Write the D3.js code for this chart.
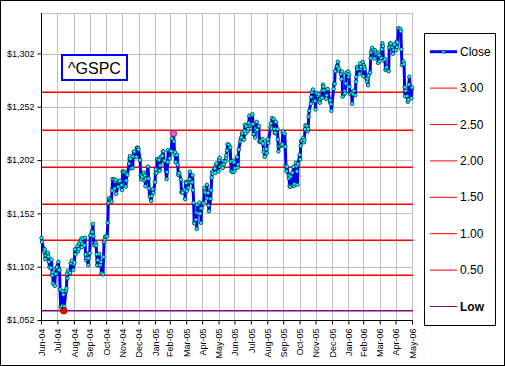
<!DOCTYPE html>
<html><head><meta charset="utf-8">
<script src="https://cdn.jsdelivr.net/npm/d3@7"></script>
<style>
html,body{margin:0;padding:0;background:#fff;}
svg{display:block;font-family:"Liberation Sans",Arial,sans-serif;}
</style></head>
<body><svg id="chart" width="505" height="366"></svg>
<script>
// ---------- data ----------
const title = "^GSPC";
const seriesName = "Close";
const closeSeries = [
["2004-07-01",1128.94],["2004-07-02",1125.38],["2004-07-06",1116.21],["2004-07-07",1118.33],["2004-07-08",1109.11],["2004-07-09",1112.81],["2004-07-12",1114.35],["2004-07-13",1115.14],["2004-07-14",1111.47],["2004-07-15",1106.69],["2004-07-16",1101.39],["2004-07-19",1100.90],["2004-07-20",1108.67],["2004-07-21",1093.88],["2004-07-22",1096.84],["2004-07-23",1086.20],["2004-07-26",1084.07],["2004-07-27",1094.83],["2004-07-28",1095.42],["2004-07-29",1100.43],["2004-07-30",1101.72],
["2004-08-02",1106.62],["2004-08-03",1099.69],["2004-08-04",1098.63],["2004-08-05",1080.70],["2004-08-06",1063.97],["2004-08-09",1065.22],["2004-08-10",1079.04],["2004-08-11",1075.79],["2004-08-12",1063.23],["2004-08-13",1064.80],["2004-08-16",1079.34],["2004-08-17",1081.71],["2004-08-18",1095.17],["2004-08-19",1091.23],["2004-08-20",1098.35],["2004-08-23",1095.68],["2004-08-24",1096.19],["2004-08-25",1104.96],["2004-08-26",1105.09],["2004-08-27",1107.77],["2004-08-30",1099.15],["2004-08-31",1104.24],
["2004-09-01",1105.91],["2004-09-02",1118.31],["2004-09-03",1113.63],["2004-09-07",1121.30],["2004-09-08",1116.27],["2004-09-09",1118.38],["2004-09-10",1123.92],["2004-09-13",1125.82],["2004-09-14",1128.33],["2004-09-15",1120.37],["2004-09-16",1123.50],["2004-09-17",1128.55],["2004-09-20",1122.20],["2004-09-21",1129.30],["2004-09-22",1113.56],["2004-09-23",1108.36],["2004-09-24",1110.11],["2004-09-27",1103.52],["2004-09-28",1110.06],["2004-09-29",1114.80],["2004-09-30",1114.58],
["2004-10-01",1131.50],["2004-10-04",1135.17],["2004-10-05",1134.48],["2004-10-06",1142.05],["2004-10-07",1130.65],["2004-10-08",1122.14],["2004-10-11",1124.39],["2004-10-12",1121.84],["2004-10-13",1113.65],["2004-10-14",1103.29],["2004-10-15",1108.20],["2004-10-18",1114.02],["2004-10-19",1103.23],["2004-10-20",1103.66],["2004-10-21",1106.49],["2004-10-22",1095.74],["2004-10-25",1094.80],["2004-10-26",1111.09],["2004-10-27",1125.40],["2004-10-28",1127.44],["2004-10-29",1130.20],
["2004-11-01",1130.51],["2004-11-02",1130.56],["2004-11-03",1143.20],["2004-11-04",1161.67],["2004-11-05",1166.17],["2004-11-08",1164.89],["2004-11-09",1164.08],["2004-11-10",1162.91],["2004-11-11",1173.48],["2004-11-12",1184.17],["2004-11-15",1183.81],["2004-11-16",1175.43],["2004-11-17",1181.94],["2004-11-18",1183.55],["2004-11-19",1170.34],["2004-11-22",1177.24],["2004-11-23",1176.94],["2004-11-24",1181.76],["2004-11-26",1182.65],["2004-11-29",1178.57],["2004-11-30",1173.82],
["2004-12-01",1191.37],["2004-12-02",1190.33],["2004-12-03",1191.17],["2004-12-06",1190.25],["2004-12-07",1177.07],["2004-12-08",1182.81],["2004-12-09",1189.24],["2004-12-10",1188.00],["2004-12-13",1198.68],["2004-12-14",1203.38],["2004-12-15",1205.72],["2004-12-16",1203.21],["2004-12-17",1194.20],["2004-12-20",1194.65],["2004-12-21",1205.45],["2004-12-22",1209.57],["2004-12-23",1210.13],["2004-12-27",1204.92],["2004-12-28",1213.54],["2004-12-29",1213.45],["2004-12-30",1213.55],["2004-12-31",1211.92],
["2005-01-03",1202.08],["2005-01-04",1188.05],["2005-01-05",1183.74],["2005-01-06",1187.89],["2005-01-07",1186.19],["2005-01-10",1190.25],["2005-01-11",1182.99],["2005-01-12",1187.70],["2005-01-13",1177.45],["2005-01-14",1184.52],["2005-01-18",1195.98],["2005-01-19",1184.63],["2005-01-20",1175.41],["2005-01-21",1167.87],["2005-01-24",1163.75],["2005-01-25",1168.41],["2005-01-26",1174.07],["2005-01-27",1174.55],["2005-01-28",1171.36],["2005-01-31",1181.27],
["2005-02-01",1189.41],["2005-02-02",1193.19],["2005-02-03",1189.89],["2005-02-04",1203.03],["2005-02-07",1201.72],["2005-02-08",1202.30],["2005-02-09",1191.99],["2005-02-10",1197.01],["2005-02-11",1205.30],["2005-02-14",1206.14],["2005-02-15",1210.12],["2005-02-16",1210.34],["2005-02-17",1200.75],["2005-02-18",1201.59],["2005-02-22",1184.16],["2005-02-23",1190.80],["2005-02-24",1200.20],["2005-02-25",1211.37],["2005-02-28",1203.60],
["2005-03-01",1210.41],["2005-03-02",1210.08],["2005-03-03",1210.47],["2005-03-04",1222.12],["2005-03-07",1225.31],["2005-03-08",1219.43],["2005-03-09",1207.01],["2005-03-10",1209.25],["2005-03-11",1200.08],["2005-03-14",1206.83],["2005-03-15",1197.75],["2005-03-16",1188.07],["2005-03-17",1190.21],["2005-03-18",1189.65],["2005-03-21",1183.78],["2005-03-22",1171.71],["2005-03-23",1172.53],["2005-03-24",1171.42],["2005-03-28",1174.28],["2005-03-29",1165.36],["2005-03-30",1181.41],["2005-03-31",1180.59],
["2005-04-01",1172.92],["2005-04-04",1176.12],["2005-04-05",1181.39],["2005-04-06",1184.07],["2005-04-07",1191.14],["2005-04-08",1181.20],["2005-04-11",1181.21],["2005-04-12",1187.76],["2005-04-13",1173.79],["2005-04-14",1162.05],["2005-04-15",1142.62],["2005-04-18",1145.98],["2005-04-19",1152.78],["2005-04-20",1137.50],["2005-04-21",1159.95],["2005-04-22",1152.12],["2005-04-25",1162.10],["2005-04-26",1151.83],["2005-04-27",1156.38],["2005-04-28",1143.22],["2005-04-29",1156.85],
["2005-05-02",1162.16],["2005-05-03",1161.17],["2005-05-04",1175.65],["2005-05-05",1172.63],["2005-05-06",1171.35],["2005-05-09",1178.84],["2005-05-10",1166.22],["2005-05-11",1171.11],["2005-05-12",1159.36],["2005-05-13",1154.05],["2005-05-16",1165.69],["2005-05-17",1173.80],["2005-05-18",1185.56],["2005-05-19",1191.08],["2005-05-20",1189.28],["2005-05-23",1193.86],["2005-05-24",1194.07],["2005-05-25",1190.01],["2005-05-26",1197.62],["2005-05-27",1198.78],["2005-05-31",1191.50],
["2005-06-01",1202.22],["2005-06-02",1204.29],["2005-06-03",1196.02],["2005-06-06",1197.51],["2005-06-07",1197.26],["2005-06-08",1194.67],["2005-06-09",1200.93],["2005-06-10",1198.11],["2005-06-13",1200.82],["2005-06-14",1203.91],["2005-06-15",1206.58],["2005-06-16",1210.96],["2005-06-17",1216.96],["2005-06-20",1216.10],["2005-06-21",1213.61],["2005-06-22",1213.88],["2005-06-23",1200.73],["2005-06-24",1191.57],["2005-06-27",1190.69],["2005-06-28",1201.57],["2005-06-29",1199.85],["2005-06-30",1191.33],
["2005-07-01",1194.44],["2005-07-05",1204.99],["2005-07-06",1194.94],["2005-07-07",1197.87],["2005-07-08",1211.86],["2005-07-11",1219.44],["2005-07-12",1222.21],["2005-07-13",1223.29],["2005-07-14",1226.50],["2005-07-15",1227.92],["2005-07-18",1221.13],["2005-07-19",1229.35],["2005-07-20",1235.20],["2005-07-21",1227.04],["2005-07-22",1233.68],["2005-07-25",1229.03],["2005-07-26",1231.16],["2005-07-27",1236.79],["2005-07-28",1243.72],["2005-07-29",1234.18],
["2005-08-01",1235.35],["2005-08-02",1244.12],["2005-08-03",1245.04],["2005-08-04",1235.86],["2005-08-05",1226.42],["2005-08-08",1223.13],["2005-08-09",1231.38],["2005-08-10",1229.13],["2005-08-11",1237.81],["2005-08-12",1230.39],["2005-08-15",1233.87],["2005-08-16",1219.34],["2005-08-17",1220.24],["2005-08-18",1219.02],["2005-08-19",1219.71],["2005-08-22",1221.73],["2005-08-23",1217.59],["2005-08-24",1209.59],["2005-08-25",1212.37],["2005-08-26",1205.10],["2005-08-29",1212.28],["2005-08-30",1208.41],["2005-08-31",1220.33],
["2005-09-01",1221.59],["2005-09-02",1218.02],["2005-09-06",1233.39],["2005-09-07",1236.36],["2005-09-08",1231.67],["2005-09-09",1241.48],["2005-09-12",1240.56],["2005-09-13",1231.20],["2005-09-14",1227.16],["2005-09-15",1227.73],["2005-09-16",1237.91],["2005-09-19",1231.02],["2005-09-20",1221.34],["2005-09-21",1210.20],["2005-09-22",1214.62],["2005-09-23",1215.29],["2005-09-26",1215.63],["2005-09-27",1215.66],["2005-09-28",1216.89],["2005-09-29",1227.68],["2005-09-30",1228.81],
["2005-10-03",1226.70],["2005-10-04",1214.47],["2005-10-05",1196.39],["2005-10-06",1191.49],["2005-10-07",1195.90],["2005-10-10",1187.33],["2005-10-11",1184.87],["2005-10-12",1177.68],["2005-10-13",1176.84],["2005-10-14",1186.57],["2005-10-17",1190.10],["2005-10-18",1178.14],["2005-10-19",1195.76],["2005-10-20",1177.80],["2005-10-21",1179.59],["2005-10-24",1199.38],["2005-10-25",1196.54],["2005-10-26",1191.38],["2005-10-27",1178.90],["2005-10-28",1198.41],["2005-10-31",1207.01],
["2005-11-01",1202.76],["2005-11-02",1215.39],["2005-11-03",1219.94],["2005-11-04",1220.14],["2005-11-07",1222.81],["2005-11-08",1218.59],["2005-11-09",1220.65],["2005-11-10",1230.96],["2005-11-11",1234.72],["2005-11-14",1233.76],["2005-11-15",1229.01],["2005-11-16",1231.21],["2005-11-17",1242.80],["2005-11-18",1248.27],["2005-11-21",1254.85],["2005-11-22",1261.23],["2005-11-23",1265.61],["2005-11-25",1268.25],["2005-11-28",1257.46],["2005-11-29",1257.48],["2005-11-30",1249.48],
["2005-12-01",1264.67],["2005-12-02",1265.08],["2005-12-05",1262.09],["2005-12-06",1263.70],["2005-12-07",1257.37],["2005-12-08",1255.84],["2005-12-09",1259.37],["2005-12-12",1260.43],["2005-12-13",1267.43],["2005-12-14",1272.74],["2005-12-15",1270.94],["2005-12-16",1267.32],["2005-12-19",1259.92],["2005-12-20",1259.62],["2005-12-21",1262.79],["2005-12-22",1268.12],["2005-12-23",1268.66],["2005-12-27",1256.54],["2005-12-28",1258.17],["2005-12-29",1254.42],["2005-12-30",1248.29],
["2006-01-03",1268.80],["2006-01-04",1273.46],["2006-01-05",1273.48],["2006-01-06",1285.45],["2006-01-09",1290.15],["2006-01-10",1289.69],["2006-01-11",1294.18],["2006-01-12",1286.06],["2006-01-13",1287.61],["2006-01-17",1282.93],["2006-01-18",1277.93],["2006-01-19",1285.04],["2006-01-20",1261.49],["2006-01-23",1263.82],["2006-01-24",1266.86],["2006-01-25",1264.68],["2006-01-26",1273.83],["2006-01-27",1283.72],["2006-01-30",1285.19],["2006-01-31",1280.08],
["2006-02-01",1282.46],["2006-02-02",1270.84],["2006-02-03",1264.03],["2006-02-06",1265.02],["2006-02-07",1254.78],["2006-02-08",1265.65],["2006-02-09",1263.78],["2006-02-10",1266.99],["2006-02-13",1262.86],["2006-02-14",1275.53],["2006-02-15",1280.00],["2006-02-16",1289.38],["2006-02-17",1287.24],["2006-02-21",1283.03],["2006-02-22",1292.67],["2006-02-23",1287.79],["2006-02-24",1289.43],["2006-02-27",1294.12],["2006-02-28",1280.66],
["2006-03-01",1291.24],["2006-03-02",1289.14],["2006-03-03",1287.23],["2006-03-06",1278.26],["2006-03-07",1275.88],["2006-03-08",1278.47],["2006-03-09",1272.23],["2006-03-10",1281.42],["2006-03-13",1284.13],["2006-03-14",1297.48],["2006-03-15",1303.02],["2006-03-16",1305.33],["2006-03-17",1307.25],["2006-03-20",1305.08],["2006-03-21",1297.23],["2006-03-22",1305.04],["2006-03-23",1301.67],["2006-03-24",1302.95],["2006-03-27",1301.61],["2006-03-28",1293.23],["2006-03-29",1302.89],["2006-03-30",1300.25],["2006-03-31",1294.87],
["2006-04-03",1297.81],["2006-04-04",1305.93],["2006-04-05",1311.56],["2006-04-06",1309.04],["2006-04-07",1295.50],["2006-04-10",1296.62],["2006-04-11",1286.57],["2006-04-12",1288.12],["2006-04-13",1289.12],["2006-04-17",1285.33],["2006-04-18",1307.65],["2006-04-19",1309.93],["2006-04-20",1311.46],["2006-04-21",1311.28],["2006-04-24",1308.11],["2006-04-25",1301.74],["2006-04-26",1305.41],["2006-04-27",1309.72],["2006-04-28",1310.61],
["2006-05-01",1305.19],["2006-05-02",1313.21],["2006-05-03",1308.12],["2006-05-04",1312.25],["2006-05-05",1325.76],["2006-05-08",1324.66],["2006-05-09",1325.14],["2006-05-10",1322.85],["2006-05-11",1305.92],["2006-05-12",1291.24],["2006-05-15",1294.50],["2006-05-16",1292.08],["2006-05-17",1270.32],["2006-05-18",1261.81],["2006-05-19",1267.03],["2006-05-22",1262.07],["2006-05-23",1256.58],["2006-05-24",1258.57],["2006-05-25",1272.88],["2006-05-26",1280.16],["2006-05-30",1259.87],["2006-05-31",1270.09]
];
const bandLabels = ["3.00","2.50","2.00","1.50","1.00","0.50"];
const bandValues = [1265.6, 1230.0, 1195.2, 1160.5, 1126.8, 1093.9];
const lowLabel = "Low";
const lowValue = 1060.72;
const lowPoint = ["2004-08-12", 1060.72];
const highPoint = ["2005-03-07", 1227.0];
const yTicks = [1052, 1102, 1152, 1202, 1252, 1302];
const yDomain = [1052, 1340];
const xTickDates = ["2004-06-30","2004-07-31","2004-08-31","2004-09-30","2004-10-31","2004-11-30","2004-12-31","2005-01-31","2005-02-28","2005-03-31","2005-04-30","2005-05-31","2005-06-30","2005-07-31","2005-08-31","2005-09-30","2005-10-31","2005-11-30","2005-12-31","2006-01-31","2006-02-28","2006-03-31","2006-04-30","2006-05-31"];
const xTickLabels = ["Jun-04","Jul-04","Aug-04","Sep-04","Oct-04","Nov-04","Dec-04","Jan-05","Feb-05","Mar-05","Apr-05","May-05","Jun-05","Jul-05","Aug-05","Sep-05","Oct-05","Nov-05","Dec-05","Jan-06","Feb-06","Mar-06","Apr-06","May-06"];

// ---------- drawing ----------
const parse = d3.utcParse("%Y-%m-%d");
const svg = d3.select("#chart");
const W = 505, H = 366;
const plot = {left: 41, right: 412, top: 13, bottom: 320};

svg.append("rect").attr("x",0).attr("y",0).attr("width",W).attr("height",H).attr("fill","#fff");

const tickDates = xTickDates.map(parse);
const x = d3.scaleUtc().domain([tickDates[0], tickDates[tickDates.length-1]]).range([plot.left, plot.right]);
const y = d3.scaleLinear().domain(yDomain).range([plot.bottom, plot.top]);

const data = closeSeries.map(d => ({date: parse(d[0]), value: d[1]}));

// plot area border (grey)
svg.append("rect").attr("x", plot.left+0.5).attr("y", plot.top+0.5)
  .attr("width", plot.right-plot.left).attr("height", plot.bottom-plot.top)
  .attr("fill","#fff").attr("stroke","#c0c0c0").attr("stroke-width",1);

// gridlines
const grid = svg.append("g").attr("stroke","#c0c0c0").attr("stroke-width",1).attr("shape-rendering","crispEdges");
tickDates.forEach(d => {
  const xx = Math.round(x(d)) + 0.5;
  grid.append("line").attr("x1",xx).attr("x2",xx).attr("y1",plot.top).attr("y2",plot.bottom);
});
yTicks.forEach(v => {
  const yy = Math.round(y(v)) + 0.5;
  grid.append("line").attr("x1",plot.left).attr("x2",plot.right).attr("y1",yy).attr("y2",yy);
});

// band lines
bandValues.forEach(v => {
  svg.append("line").attr("x1",plot.left).attr("x2",plot.right+1)
    .attr("y1",y(v)).attr("y2",y(v)).attr("stroke","#ff0000").attr("stroke-width",1.5);
});
svg.append("line").attr("x1",plot.left).attr("x2",plot.right+1)
  .attr("y1",y(lowValue)).attr("y2",y(lowValue)).attr("stroke","#800080").attr("stroke-width",1.5);

// axes
const yAxis = d3.axisLeft(y).tickValues(yTicks).tickSize(4).tickPadding(3)
  .tickFormat(d => "$" + d3.format(",")(d));
const gy = svg.append("g").attr("transform",`translate(${plot.left+0.5},0)`).call(yAxis);
gy.select(".domain").attr("stroke","#000").attr("d", `M0,${plot.top}V${plot.bottom+0.5}`);
gy.selectAll(".tick line").attr("stroke","#000");
gy.selectAll("text").attr("font-size","9px").attr("fill","#000").attr("font-family","'Liberation Sans',Arial,sans-serif");

const xAxis = d3.axisBottom(x).tickValues(tickDates).tickSize(4)
  .tickFormat((d,i) => xTickLabels[i]);
const gx = svg.append("g").attr("transform",`translate(0,${plot.bottom+0.5})`).call(xAxis);
gx.select(".domain").attr("stroke","#000").attr("d", `M${plot.left},0H${plot.right+1}`);
gx.selectAll(".tick line").attr("stroke","#000");
gx.selectAll("text")
  .attr("font-size","9px").attr("fill","#000").attr("font-family","'Liberation Sans',Arial,sans-serif")
  .attr("text-anchor","end").attr("transform","translate(0,8) rotate(-90)")
  .attr("x",0).attr("y",0).attr("dy","0.35em");

// series
const line = d3.line().x(d => x(d.date)).y(d => y(d.value));
svg.append("path").datum(data).attr("d", line).attr("fill","none")
  .attr("stroke","#0000ff").attr("stroke-width",3).attr("stroke-linejoin","round");
svg.append("g").selectAll("circle").data(data).join("circle")
  .attr("cx", d => x(d.date)).attr("cy", d => y(d.value)).attr("r",1.8)
  .attr("fill","#00ffff").attr("stroke","#002030").attr("stroke-width",0.7);

// special points
svg.append("circle").attr("cx", x(parse(lowPoint[0]))).attr("cy", y(lowPoint[1])).attr("r",3.3)
  .attr("fill","#ff0000").attr("stroke","#800000").attr("stroke-width",0.8);
svg.append("circle").attr("cx", x(parse(highPoint[0]))).attr("cy", y(highPoint[1])).attr("r",3.2)
  .attr("fill","#e060d0").attr("stroke","#800060").attr("stroke-width",0.8);

// title box
const tb = svg.append("g");
tb.append("rect").attr("x",62).attr("y",55).attr("width",65).attr("height",25)
  .attr("fill","#fff").attr("stroke","#0000ff").attr("stroke-width",2);
tb.append("text").attr("x",94.5).attr("y",68).attr("text-anchor","middle").attr("dominant-baseline","central")
  .attr("font-size","16px").attr("fill","#000").text(title);

// legend
const lg = svg.append("g");
lg.append("rect").attr("x",424.5).attr("y",33.5).attr("width",71).attr("height",292)
  .attr("fill","#fff").attr("stroke","#000").attr("stroke-width",1);
const legendItems = [{label: seriesName, type: "close"}]
  .concat(bandLabels.map(l => ({label: l, type: "band"})))
  .concat([{label: lowLabel, type: "low"}]);
legendItems.forEach((it, i) => {
  const yy = 51.7 + i * 36.4;
  const col = it.type === "close" ? "#0000ff" : it.type === "band" ? "#ff0000" : "#800080";
  lg.append("line").attr("x1",430).attr("x2",457).attr("y1",yy).attr("y2",yy)
    .attr("stroke",col).attr("stroke-width", it.type === "close" ? 3 : 1);
  if (it.type === "close") {
    lg.append("circle").attr("cx",443.5).attr("cy",yy).attr("r",1.6)
      .attr("fill","#00ffff").attr("stroke","#002030").attr("stroke-width",0.7);
  }
  lg.append("text").attr("x",460).attr("y",yy).attr("dominant-baseline","central")
    .attr("font-size","12px").attr("fill","#000")
    .attr("font-weight", it.type === "low" ? "bold" : "normal").text(it.label);
});

// outer border
svg.append("rect").attr("x",0.5).attr("y",0.5).attr("width",W-1).attr("height",H-1)
  .attr("fill","none").attr("stroke","#000").attr("stroke-width",1);
</script></body></html>
